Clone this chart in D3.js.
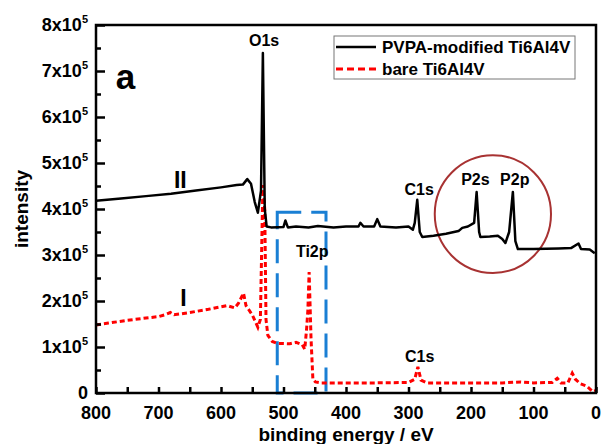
<!DOCTYPE html>
<html>
<head>
<meta charset="utf-8">
<script src="https://cdn.jsdelivr.net/npm/d3@7"></script>
<style>
  body { margin: 0; background: #fff; }
  svg { display: block; font-family: "Liberation Sans", Arial, sans-serif; font-weight: bold; }
</style>
</head>
<body>
<div id="chart"></div>
<script>
// binding energy (eV), intensity (x10^5)
const modifiedEnergy = [800, 760, 720, 680, 640, 600, 575, 565, 558, 552, 546, 541, 536, 533, 530, 527, 520, 500, 497, 493, 480, 460, 445, 420, 400, 380, 377, 372, 355, 350, 345, 320, 300, 293, 290, 286, 282, 278, 260, 240, 220, 214, 205, 195, 191, 187, 185, 170, 157, 150, 145, 139, 133, 129, 125, 100, 60, 40, 28, 24, 10, 2];
const modifiedValue = [4.18, 4.23, 4.28, 4.33, 4.40, 4.47, 4.52, 4.53, 4.65, 4.55, 4.15, 3.92, 4.4, 7.39, 4.0, 3.62, 3.6, 3.61, 3.75, 3.6, 3.62, 3.6, 3.63, 3.6, 3.62, 3.62, 3.7, 3.62, 3.62, 3.78, 3.62, 3.6, 3.62, 3.55, 3.7, 4.2, 3.5, 3.39, 3.42, 3.46, 3.52, 3.59, 3.62, 3.7, 4.37, 3.5, 3.39, 3.4, 3.42, 3.35, 3.26, 3.5, 4.37, 3.3, 3.13, 3.13, 3.14, 3.15, 3.25, 3.13, 3.12, 3.04];

const bareEnergy = [800, 780, 750, 720, 700, 690, 681, 675, 650, 620, 590, 578, 572, 564, 560, 550, 541, 537, 533, 530, 528, 525, 518, 510, 490, 480, 470, 466, 463, 461, 459, 456, 453, 449, 440, 400, 350, 300, 290, 285, 280, 270, 200, 150, 120, 100, 70, 62, 56, 45, 38, 33, 25, 15, 5, 1];
const bareValue = [1.48, 1.52, 1.58, 1.63, 1.66, 1.70, 1.75, 1.70, 1.75, 1.82, 1.90, 1.85, 1.95, 2.17, 1.9, 1.7, 1.43, 1.6, 4.52, 4.0, 1.6, 1.25, 1.12, 1.08, 1.07, 1.1, 1.05, 0.95, 1.4, 1.8, 2.63, 1.2, 0.3, 0.24, 0.22, 0.22, 0.22, 0.23, 0.3, 0.57, 0.28, 0.22, 0.22, 0.22, 0.24, 0.22, 0.23, 0.32, 0.22, 0.22, 0.43, 0.3, 0.2, 0.15, 0.03, 0.05];

const xTicks = [800, 700, 600, 500, 400, 300, 200, 100, 0];
const yTicks = [0, 1, 2, 3, 4, 5, 6, 7, 8];
const seriesNames = ["PVPA-modified Ti6Al4V", "bare Ti6Al4V"];

const width = 603, height = 444;
const margin = { top: 25, right: 7, bottom: 51, left: 96 };

const svg = d3.select("#chart").append("svg")
  .attr("width", width).attr("height", height);

const x = d3.scaleLinear().domain([800, 0]).range([margin.left, width - margin.right]);
const y = d3.scaleLinear().domain([0, 8]).range([height - margin.bottom, margin.top]);

const modified = modifiedEnergy.map((e, i) => [e, modifiedValue[i]]);
const bare = bareEnergy.map((e, i) => [e, bareValue[i]]);

const line = d3.line().x(d => x(d[0])).y(d => y(d[1]));

// blue dashed region (Ti2p)
svg.append("rect")
  .attr("x", x(510)).attr("y", y(3.93))
  .attr("width", x(432) - x(510)).attr("height", y(0) - y(3.93))
  .attr("fill", "none").attr("stroke", "#1a7fd4")
  .attr("stroke-width", 3).attr("stroke-dasharray", "24,10");

// circle around phosphorus peaks
svg.append("ellipse")
  .attr("cx", x(165)).attr("cy", y(3.89))
  .attr("rx", x(165) - x(258)).attr("ry", y(2.61) - y(3.89))
  .attr("fill", "none").attr("stroke", "#a83232").attr("stroke-width", 2);

svg.append("path").datum(bare)
  .attr("d", line).attr("fill", "none")
  .attr("stroke", "#ff0000").attr("stroke-width", 3)
  .attr("stroke-dasharray", "5,3");

svg.append("path").datum(modified)
  .attr("d", line).attr("fill", "none")
  .attr("stroke", "#000").attr("stroke-width", 2.5)
  .attr("stroke-linejoin", "round");

// axes (ticks inward)
const xAxis = svg.append("g")
  .attr("transform", `translate(0,${y(0)})`)
  .call(d3.axisBottom(x).tickValues(d3.range(0, 801, 50)).tickSize(-6).tickFormat(""));
const yAxis = svg.append("g")
  .attr("transform", `translate(${x(800)},0)`)
  .call(d3.axisLeft(y).tickValues(d3.range(0, 8.01, 0.5)).tickSize(-6).tickFormat(""));
[xAxis, yAxis].forEach(g => {
  g.select(".domain").remove();
  g.selectAll("line").attr("stroke", "#000").attr("stroke-width", 2.5);
});
yAxis.selectAll(".tick line").attr("x2", d => (d % 1 === 0 ? 9 : 5));

// frame
svg.append("rect")
  .attr("x", x(800)).attr("y", y(8))
  .attr("width", x(0) - x(800)).attr("height", y(0) - y(8))
  .attr("fill", "none").attr("stroke", "#000").attr("stroke-width", 2.5);

// tick labels
svg.append("g").selectAll("text").data(xTicks).join("text")
  .attr("x", d => x(d)).attr("y", y(0) + 26)
  .attr("text-anchor", "middle").attr("font-size", 18)
  .text(d => d);

const yl = svg.append("g").selectAll("text").data(yTicks).join("text")
  .attr("x", x(800) - 8).attr("y", d => y(d) + 6)
  .attr("text-anchor", "end").attr("font-size", 18);
yl.each(function (d) {
  const t = d3.select(this);
  if (d === 0) { t.text("0"); return; }
  t.append("tspan").text(d + "x10");
  t.append("tspan").attr("font-size", 11).attr("dy", -8).text("5");
});

// axis titles
svg.append("text")
  .attr("x", (x(800) + x(0)) / 2).attr("y", height - 3)
  .attr("text-anchor", "middle").attr("font-size", 19)
  .text("binding energy / eV");
svg.append("text")
  .attr("transform", `translate(28,${(y(0) + y(8)) / 2}) rotate(-90)`)
  .attr("text-anchor", "middle").attr("font-size", 19)
  .text("intensity");

// legend
const legend = svg.append("g");
legend.append("rect").attr("x", 334).attr("y", 36).attr("width", 241).attr("height", 43)
  .attr("fill", "#fff").attr("stroke", "#777").attr("stroke-width", 1);
legend.append("line").attr("x1", 336).attr("x2", 376).attr("y1", 47).attr("y2", 47)
  .attr("stroke", "#000").attr("stroke-width", 2.5);
legend.append("line").attr("x1", 336).attr("x2", 376).attr("y1", 69).attr("y2", 69)
  .attr("stroke", "#ff0000").attr("stroke-width", 3).attr("stroke-dasharray", "7,4");
legend.selectAll("text").data(seriesNames).join("text")
  .attr("x", 382).attr("y", (d, i) => 53 + i * 22)
  .attr("font-size", 17).text(d => d);

// annotations
const notes = [
  { t: "a", e: 753, v: 6.6, s: 35 },
  { t: "O1s", e: 531, v: 7.55, s: 16 },
  { t: "II", e: 665, v: 4.45, s: 23 },
  { t: "I", e: 660, v: 1.9, s: 23 },
  { t: "Ti2p", e: 454, v: 2.95, s: 16 },
  { t: "C1s", e: 283, v: 4.3, s: 16 },
  { t: "C1s", e: 282, v: 0.68, s: 16 },
  { t: "P2s", e: 193, v: 4.52, s: 16 },
  { t: "P2p", e: 130, v: 4.52, s: 16 }
];
svg.append("g").selectAll("text").data(notes).join("text")
  .attr("x", d => x(d.e)).attr("y", d => y(d.v))
  .attr("text-anchor", "middle").attr("font-size", d => d.s)
  .text(d => d.t);
</script>
</body>
</html>
